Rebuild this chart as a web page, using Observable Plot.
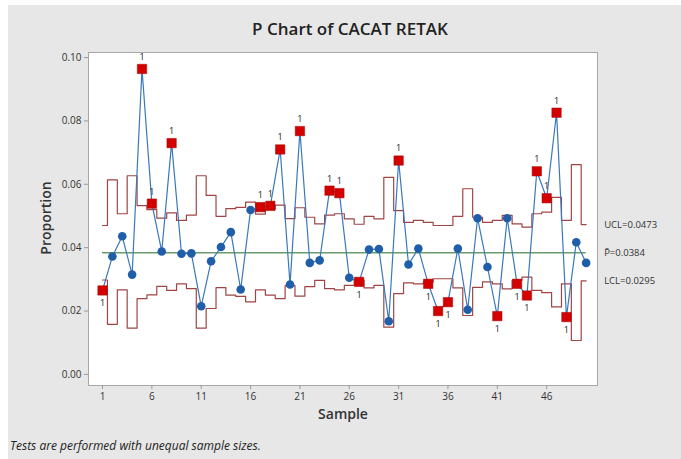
<!DOCTYPE html>
<html><head><meta charset="utf-8">
<script src="https://cdn.jsdelivr.net/npm/d3@7"></script>
<script src="https://cdn.jsdelivr.net/npm/@observablehq/plot@0.6"></script>
<style>
body{margin:0;background:#fff;font-family:"Open Sans",sans-serif;}
#wrap{position:relative;width:681px;height:459px;overflow:hidden;}
#bg{position:absolute;left:8px;top:5px;right:0;bottom:0;background:#e7e7e7;}
#chart{position:absolute;left:0;top:0;}
.t{position:absolute;color:#222;white-space:nowrap;}
</style></head><body>
<div id="wrap"><div id="bg"></div><div id="chart"></div>
<div class="t" style="left:0;width:700px;text-align:center;top:17px;font-size:17px;font-weight:600;">P Chart of CACAT RETAK</div>
<div class="t" style="left:0;width:686px;text-align:center;top:404px;font-size:14px;font-weight:600;color:#333;">Sample</div>
<div class="t" style="left:45px;top:218px;transform:translate(-50%,-50%) rotate(-90deg);font-size:14px;font-weight:600;color:#333;">Proportion</div>
<div class="t" style="left:10px;top:437px;font-size:12px;font-style:italic;color:#222;">Tests are performed with unequal sample sizes.</div>
</div>
<script>
const samples = d3.range(1, 51);
const proportion = [0.0265, 0.0372, 0.0436, 0.0315, 0.0964, 0.0539, 0.0388, 0.0730, 0.0381, 0.0382,
  0.0215, 0.0357, 0.0402, 0.0449, 0.0268, 0.0519, 0.0528, 0.0532, 0.0710, 0.0284,
  0.0768, 0.0352, 0.0360, 0.0580, 0.0572, 0.0305, 0.0292, 0.0394, 0.0396, 0.0168,
  0.0675, 0.0347, 0.0397, 0.0286, 0.0200, 0.0228, 0.0397, 0.0204, 0.0493, 0.0339,
  0.0184, 0.0493, 0.0286, 0.0249, 0.0641, 0.0556, 0.0826, 0.0181, 0.0417, 0.0352];
const ucl = [0.0470, 0.0614, 0.0507, 0.0627, 0.0533, 0.0520, 0.0493, 0.0510, 0.0486, 0.0503,
  0.0627, 0.0565, 0.0499, 0.0523, 0.0527, 0.0544, 0.0506, 0.0521, 0.0534, 0.0492,
  0.0526, 0.0496, 0.0475, 0.0503, 0.0507, 0.0491, 0.0474, 0.0499, 0.0491, 0.0622,
  0.0517, 0.0480, 0.0486, 0.0480, 0.0470, 0.0470, 0.0499, 0.0586, 0.0496, 0.0480,
  0.0486, 0.0502, 0.0475, 0.0465, 0.0507, 0.0512, 0.0559, 0.0486, 0.0662, 0.0473];
const lcl = [0.0298, 0.0158, 0.0267, 0.0146, 0.0239, 0.0251, 0.0278, 0.0265, 0.0286, 0.0271,
  0.0146, 0.0208, 0.0274, 0.0250, 0.0246, 0.0229, 0.0267, 0.0250, 0.0239, 0.0280,
  0.0247, 0.0277, 0.0297, 0.0271, 0.0267, 0.0281, 0.0298, 0.0273, 0.0281, 0.0149,
  0.0255, 0.0289, 0.0286, 0.0292, 0.0302, 0.0302, 0.0273, 0.0186, 0.0275, 0.0292,
  0.0286, 0.0270, 0.0297, 0.0307, 0.0265, 0.0258, 0.0213, 0.0286, 0.0107, 0.0295];
const flagged = [1, 5, 6, 8, 17, 18, 19, 21, 24, 25, 27, 31, 34, 35, 36, 41, 43, 44, 45, 46, 47, 48];
const pBar = 0.0384;
const xTicks = [1, 6, 11, 16, 21, 26, 31, 36, 41, 46];
const yTicks = [0, 0.02, 0.04, 0.06, 0.08, 0.10];
const limitLabels = ["UCL=0.0473", "P\u0304=0.0384", "LCL=0.0295"];

const rows = samples.map((s, i) => ({s, p: proportion[i], ucl: ucl[i], lcl: lcl[i], flag: flagged.includes(s)}));
const last = rows[rows.length - 1];
const labelRows = [
  {s: last.s, y: last.ucl, t: limitLabels[0]},
  {s: last.s, y: pBar, t: limitLabels[1]},
  {s: last.s, y: last.lcl, t: limitLabels[2]}
];

const chart = Plot.plot({
  width: 681, height: 459,
  marginLeft: 88, marginRight: 84, marginTop: 52, marginBottom: 74,
  style: {background: "transparent", fontFamily: "Open Sans, sans-serif", fontSize: "10px", color: "#333"},
  x: {domain: [-0.42, 51.15]},
  y: {domain: [-0.0035, 0.1016]},
  marks: [
    Plot.frame({fill: "white", stroke: "#a8a8a8"}),
    Plot.axisX({ticks: xTicks, tickFormat: d => String(d), tickSize: 4, tickPadding: 3, label: null, stroke: "#999"}),
    Plot.axisY({ticks: yTicks, tickFormat: ".2f", tickSize: 4, tickPadding: 3, label: null, stroke: "#999"}),
    Plot.line(rows, {x: "s", y: "ucl", curve: "step", stroke: "#a04545", strokeWidth: 1.2}),
    Plot.line(rows, {x: "s", y: "lcl", curve: "step", stroke: "#a04545", strokeWidth: 1.2}),
    Plot.ruleY([pBar], {x1: samples[0], x2: samples[samples.length - 1], stroke: "#6a9c6a", strokeWidth: 1.6}),
    Plot.line(rows, {x: "s", y: "p", stroke: "#3a78bd", strokeWidth: 1.2}),
    Plot.dot(rows.filter(d => !d.flag), {x: "s", y: "p", r: 4.3, fill: "#1f5ea8"}),
    Plot.dot(rows.filter(d => d.flag), {x: "s", y: "p", symbol: "square", r: 5.3, fill: "#d40000", stroke: "#a00000", strokeWidth: 0.5}),
    Plot.text(rows.filter(d => d.flag && d.p > pBar), {x: "s", y: "p", text: () => "1", dy: -12, fontSize: 9, fill: "#222"}),
    Plot.text(rows.filter(d => d.flag && d.p < pBar), {x: "s", y: "p", text: () => "1", dy: 13, fontSize: 9, fill: "#222"}),
    Plot.text(labelRows, {x: "s", y: "y", text: "t", dx: 18, textAnchor: "start", fontSize: 9.5, fill: "#333"})
  ]
});
document.getElementById("chart").appendChild(chart);
</script>
</body></html>
